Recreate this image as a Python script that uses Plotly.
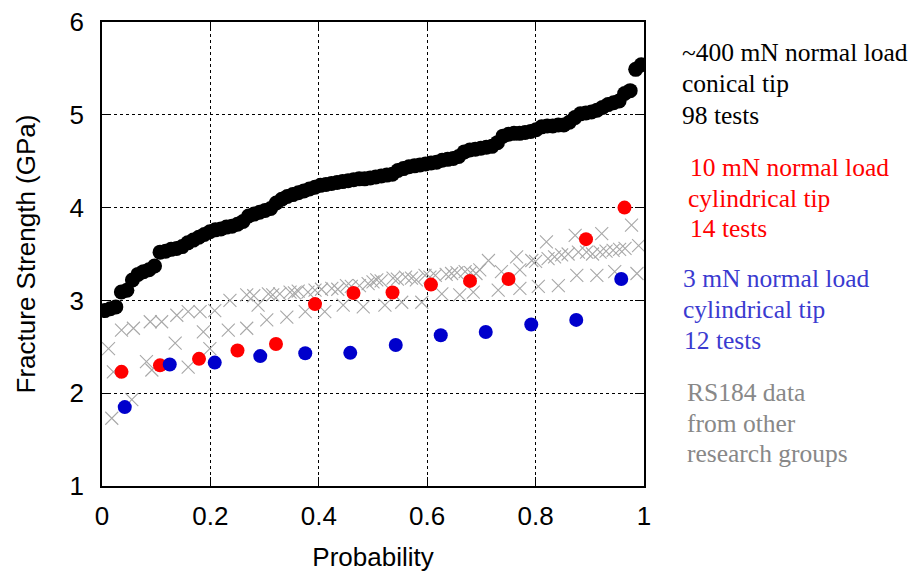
import plotly.graph_objects as go

# ---- data ----
black_y = [2.89, 2.91, 2.93, 3.09, 3.11, 3.22, 3.28, 3.31, 3.33, 3.37,
           3.52, 3.53, 3.55, 3.56, 3.58, 3.62, 3.65, 3.68, 3.71, 3.74,
           3.76, 3.77, 3.79, 3.80, 3.82, 3.85, 3.91, 3.93, 3.95, 3.97,
           3.99, 4.05, 4.09, 4.12, 4.14, 4.16, 4.18, 4.20, 4.22, 4.24,
           4.25, 4.26, 4.27, 4.28, 4.29, 4.30, 4.31, 4.31, 4.32, 4.33,
           4.34, 4.35, 4.36, 4.40, 4.42, 4.44, 4.45, 4.46, 4.47, 4.48,
           4.49, 4.51, 4.52, 4.53, 4.55, 4.60, 4.62, 4.63, 4.64, 4.65,
           4.66, 4.70, 4.77, 4.79, 4.80, 4.80, 4.81, 4.82, 4.84, 4.87,
           4.88, 4.88, 4.89, 4.89, 4.92, 4.97, 5.01, 5.02, 5.03, 5.05,
           5.08, 5.11, 5.13, 5.15, 5.23, 5.26, 5.49, 5.54]

red_x = [0.036, 0.107, 0.179, 0.250, 0.321, 0.393, 0.464, 0.536, 0.607,
         0.679, 0.750, 0.893, 0.964]
red_y = [2.23, 2.30, 2.37, 2.46, 2.53, 2.96, 3.08, 3.085, 3.17, 3.21,
         3.23, 3.66, 4.00]

blue_x = [0.042, 0.125, 0.208, 0.292, 0.375, 0.458, 0.542, 0.625, 0.708,
          0.792, 0.875, 0.958]
blue_y = [1.85, 2.31, 2.33, 2.40, 2.43, 2.435, 2.52, 2.625, 2.66, 2.74,
          2.79, 3.23]

gray_x = [0.012, 0.018, 0.021, 0.036, 0.055, 0.058, 0.082, 0.089, 0.092, 0.110,
          0.135, 0.138, 0.159, 0.159, 0.181, 0.187, 0.199, 0.208, 0.233, 0.236,
          0.267, 0.267, 0.280, 0.288, 0.304, 0.307, 0.315, 0.328, 0.341, 0.347,
          0.355, 0.362, 0.375, 0.380, 0.393, 0.405, 0.411, 0.424, 0.435, 0.445,
          0.451, 0.460, 0.475, 0.482, 0.491, 0.500, 0.507, 0.515, 0.522, 0.537,
          0.545, 0.553, 0.560, 0.571, 0.580, 0.590, 0.596, 0.605, 0.615, 0.627,
          0.635, 0.645, 0.655, 0.660, 0.670, 0.680, 0.685, 0.690, 0.697, 0.713,
          0.731, 0.737, 0.765, 0.771, 0.771, 0.793, 0.800, 0.805, 0.820, 0.823,
          0.835, 0.842, 0.848, 0.860, 0.873, 0.876, 0.879, 0.894, 0.905, 0.913,
          0.919, 0.922, 0.930, 0.943, 0.946, 0.955, 0.965, 0.977, 0.987, 0.990]
gray_y = [2.48, 1.73, 2.23, 2.68, 1.93, 2.70, 2.34, 2.77, 2.25, 2.77,
          2.54, 2.84, 2.28, 2.88, 2.88, 2.66, 2.48, 2.89, 2.68, 3.00,
          2.70, 3.06, 3.05, 2.95, 2.79, 3.07, 3.06, 3.07, 2.82, 3.09,
          3.08, 3.10, 2.88, 3.09, 3.11, 3.12, 2.88, 3.13, 3.12, 2.95,
          3.16, 3.15, 3.16, 2.93, 3.18, 3.20, 3.22, 3.21, 2.95, 3.24,
          3.23, 2.98, 3.25, 3.24, 3.22, 2.98, 3.27, 3.25, 3.27, 3.07,
          3.28, 3.29, 3.30, 3.06, 3.31, 3.30, 3.09, 3.29, 3.33, 3.43,
          3.11, 3.31, 3.47, 3.33, 3.13, 3.43, 3.42, 3.15, 3.63, 3.45,
          3.47, 3.16, 3.49, 3.50, 3.70, 3.27, 3.52, 3.52, 3.50, 3.27,
          3.52, 3.72, 3.53, 3.54, 3.31, 3.55, 3.56, 3.81, 3.29, 3.59]

legend_lines = [
    ("~400 mN normal load", "#000000", 682, 52),
    ("conical tip", "#000000", 682, 84),
    ("98 tests", "#000000", 682, 115),
    ("10 mN normal load", "#ff0000", 690, 167),
    ("cylindrical tip", "#ff0000", 688, 198),
    ("14 tests", "#ff0000", 690, 229),
    ("3 mN normal load", "#3a3ad0", 683, 278),
    ("cylindrical tip", "#3a3ad0", 683, 309),
    ("12 tests", "#3a3ad0", 684, 340),
    ("RS184 data", "#888888", 687, 392),
    ("from other", "#888888", 687, 423),
    ("research groups", "#888888", 687, 453),
]

# ---- figure ----
n = len(black_y)
black_x = [(i + 0.5) / n for i in range(n)]

L, R, T, B = 102, 644, 22, 486   # plot area in page pixels
W, H = 917, 576

fig = go.Figure()
fig.add_trace(go.Scatter(x=gray_x, y=gray_y, mode="markers",
                         marker=dict(symbol="x-thin", size=13,
                                     line=dict(width=1.1, color="#a8a8a8")),
                         showlegend=False))
fig.add_trace(go.Scatter(x=black_x, y=black_y, mode="markers",
                         marker=dict(size=15, color="#000000"),
                         showlegend=False))
fig.add_trace(go.Scatter(x=red_x, y=red_y, mode="markers",
                         marker=dict(size=14, color="#ff0000"),
                         showlegend=False))
fig.add_trace(go.Scatter(x=blue_x, y=blue_y, mode="markers",
                         marker=dict(size=14, color="#0000cc"),
                         showlegend=False))

for text, color, px, py in legend_lines:
    fig.add_annotation(text=text, xref="paper", yref="paper",
                       x=(px - L) / (R - L), y=(B - py) / (B - T),
                       xanchor="left", yanchor="middle", showarrow=False,
                       xshift=-2,
                       font=dict(family="Liberation Serif, Times New Roman, serif",
                                 size=25.5, color=color))

sans = "Liberation Sans, Arial, sans-serif"
axis_common = dict(showline=True, linecolor="#000000", linewidth=1.5, mirror="allticks",
                   ticks="inside", ticklen=9, tickwidth=1.2, tickcolor="#000000",
                   showgrid=True, gridcolor="#000000", gridwidth=0.8, griddash="3px,3px",
                   zeroline=False, automargin=False,
                   tickfont=dict(family=sans, size=26, color="#000000"))

fig.update_layout(
    width=W, height=H,
    margin=dict(l=L, r=W - R, t=T, b=H - B),
    paper_bgcolor="#ffffff", plot_bgcolor="#ffffff",
    xaxis=dict(range=[0, 1], dtick=0.2, tick0=0, ticklabelstandoff=6,
               title=dict(text="Probability", font=dict(family=sans, size=26, color="#000000"),
                          standoff=18),
               **axis_common),
    yaxis=dict(range=[1, 6], dtick=1, tick0=1, ticklabelstandoff=11,
               title=dict(text="Fracture Strength (GPa)",
                          font=dict(family=sans, size=26, color="#000000"),
                          standoff=26),
               **axis_common),
)

fig.write_html("out.html", config={"displayModeBar": False},
               post_script="document.body.style.margin='0px';document.body.style.overflow='hidden';")
